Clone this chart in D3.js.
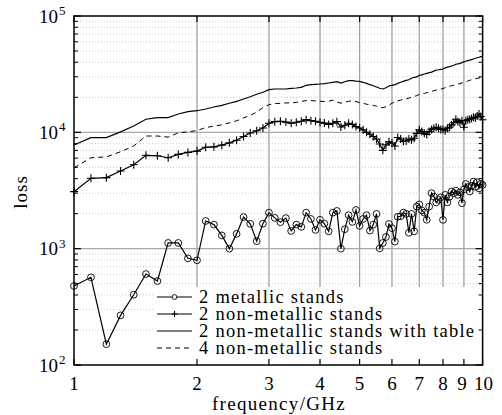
<!DOCTYPE html>
<html><head><meta charset="utf-8">
<script src="https://cdn.jsdelivr.net/npm/d3@7"></script>
</head>
<body style="margin:0;background:#fff"><svg id="chart" width="502" height="415"></svg>
<script>
const freqs = [1.0,1.1,1.2,1.3,1.4,1.5,1.6,1.7,1.8,1.9,
2.0,2.1,2.2,2.3,2.4,2.5,2.6,2.7,2.8,2.9,
3.0,3.1,3.2,3.3,3.4,3.5,3.6,3.7,3.8,3.9,
4.0,4.1,4.2,4.3,4.4,4.5,4.6,4.7,4.8,4.9,
5.0,5.1,5.2,5.3,5.4,5.5,5.6,5.7,5.8,5.9,
6.0,6.1,6.2,6.3,6.4,6.5,6.6,6.7,6.8,6.9,
7.0,7.1,7.2,7.3,7.4,7.5,7.6,7.7,7.8,7.9,
8.0,8.1,8.2,8.3,8.4,8.5,8.6,8.7,8.8,8.9,
9.0,9.1,9.2,9.3,9.4,9.5,9.6,9.7,9.8,9.9,10.0];

const metallic = [478,567,151,267,402,605,527,1120,1120,826,
794,1730,1610,1300,1000,1340,1870,1635,1160,1640,
2040,1840,1690,1830,1420,1610,1540,2040,1800,1450,
1770,1640,1410,2040,2110,1000,1470,1940,1700,2150,
1570,1800,1940,1430,1610,1990,1005,1120,1260,1630,
1500,1150,1880,1900,2040,1990,1370,1990,1410,2300,
2400,2130,2040,1770,2300,3000,2800,2500,2630,2760,
1770,2900,2500,2800,3100,3000,3150,2900,3050,2460,
3230,3600,3380,3100,3470,3770,3400,3720,3300,3600,3530];

const nonMetallic = [3090,4025,4080,4650,5270,6345,6290,6050,6460,6720,
6900,7450,7500,7760,8120,8560,9200,9870,10330,10900,
11960,12350,12450,12250,11960,12200,12450,12850,12600,12450,
12200,12000,11700,11960,12350,11120,11500,11960,11700,11200,
10900,10500,10000,9620,9200,8750,7930,7000,7800,8300,
8080,7630,9040,8750,8340,8430,8750,8620,8900,9800,
10500,10150,9800,9570,10150,10600,10840,11050,10840,10600,
10600,10330,10840,11050,11600,12100,12950,12350,12100,12600,
11050,12600,12840,12950,13150,13470,13300,13800,14380,13700,12840];

const withTable = [7780,8990,9020,10100,11330,12950,13360,13400,14380,15050,
15340,15870,16500,17070,17770,18480,19340,20230,21230,22100,
23260,23580,23580,23580,23900,24040,24380,25370,25680,25880,
26040,26180,26550,26920,27240,26550,27240,27800,27800,27600,
27450,26920,26360,25680,25170,24550,23910,23580,24170,25000,
25370,25680,26360,26920,27450,27980,28320,29140,29720,30000,
30900,31230,31720,32160,32600,32900,33600,34300,34500,34800,
35000,35800,36300,36700,37200,37700,38500,38700,39200,39700,
40300,40800,41300,41700,42200,42700,43300,43800,44200,44700,45000];

const fourNonMetallic = [4960,6050,6150,6810,7630,9300,9300,9100,9900,10100,
10350,11000,11300,11600,12060,12560,13300,14000,14930,16300,
17300,17640,17780,17900,17900,18100,18400,18750,18750,18600,
18500,18400,18500,18900,18200,17800,18200,18500,18600,18400,
18000,17800,17430,17300,17050,16800,16400,16300,16600,17050,
17800,18200,18600,18900,19300,19400,19700,20000,20300,20700,
21200,21400,21600,21900,22200,22500,22800,23100,23300,23500,
23800,24200,24500,24900,25200,25400,25700,26050,26200,26600,
26900,27300,27600,28000,28300,28700,28900,29100,29300,29500,29800];

const seriesNames = ["2 metallic stands","2 non-metallic stands","2 non-metallic stands with table","4 non-metallic stands"];
const xTicks = [1,2,3,4,5,6,7,8,9,10];
const xTickLabels = ["1","2","3","4","5","6","7","8","9","10"];
const yTicks = [100,1000,10000,100000];
const yTickExp = ["2","3","4","5"];

const svg = d3.select("#chart");
const L = 74, R = 482.6, T = 16, B = 365;
const x = d3.scaleLog().domain([1,10]).range([L,R]);
const y = d3.scaleLog().domain([100,100000]).range([B,T]);

function txt(sel, size){
  return sel.append("text").style("font-family", '"Liberation Serif", monospace').attr("font-size", size);
}

const yMinor = [];
[100,1000,10000].forEach(d => { for (let k=2;k<=9;k++) yMinor.push(d*k); });

const grid = svg.append("g");
grid.selectAll("line.minor").data(yMinor).enter().append("line")
  .attr("x1",L).attr("x2",R).attr("y1",d=>y(d)).attr("y2",d=>y(d))
  .attr("stroke","#bdbdbd").attr("stroke-width",0.8).attr("stroke-dasharray","1,2");
grid.selectAll("line.hmaj").data([1000,10000]).enter().append("line")
  .attr("x1",L).attr("x2",R).attr("y1",d=>y(d)).attr("y2",d=>y(d))
  .attr("stroke","#a8a8a8").attr("stroke-width",1.2);
grid.selectAll("line.vmaj").data(xTicks.slice(1,-1)).enter().append("line")
  .attr("x1",d=>x(d)).attr("x2",d=>x(d)).attr("y1",T).attr("y2",B)
  .attr("stroke","#a0a0a0").attr("stroke-width",1.3);

const legX = 155, legY = 287;
svg.append("rect").attr("x",legX).attr("y",legY).attr("width",R-legX).attr("height",B-legY).attr("fill","#fff");

const line = d3.line().x((d,i)=>x(freqs[i])).y(d=>y(d));
const plot = svg.append("g");
plot.append("path").datum(withTable).attr("d",line).attr("fill","none").attr("stroke","#000").attr("stroke-width",1.2);
plot.append("path").datum(fourNonMetallic).attr("d",line).attr("fill","none").attr("stroke","#000").attr("stroke-width",1).attr("stroke-dasharray","5,4");
plot.append("path").datum(nonMetallic).attr("d",line).attr("fill","none").attr("stroke","#000").attr("stroke-width",1.2);
plot.selectAll("path.cross").data(nonMetallic).enter().append("path")
  .attr("d",(d,i)=>{const cx=x(freqs[i]),cy=y(d);return `M${cx-4},${cy}H${cx+4}M${cx},${cy-4}V${cy+4}`;})
  .attr("stroke","#000").attr("stroke-width",1.1);
plot.append("path").datum(metallic).attr("d",line).attr("fill","none").attr("stroke","#000").attr("stroke-width",1.2);
plot.selectAll("circle").data(metallic).enter().append("circle")
  .attr("cx",(d,i)=>x(freqs[i])).attr("cy",d=>y(d)).attr("r",3.4)
  .attr("fill","none").attr("stroke","#000").attr("stroke-width",0.9);

const rows = [297,314,331,348];
const lg = svg.append("g");
seriesNames.forEach((name,i)=>{
  const ry = rows[i];
  const ln = lg.append("line").attr("x1",157).attr("x2",192).attr("y1",ry).attr("y2",ry)
    .attr("stroke","#000").attr("stroke-width", i===3?1:1.2);
  if (i===3) ln.attr("stroke-dasharray","5,4");
  if (i===0) lg.append("circle").attr("cx",174.5).attr("cy",ry).attr("r",2.4).attr("fill","#fff").attr("stroke","#000").attr("stroke-width",0.9);
  if (i===1) lg.append("path").attr("d",`M171.5,${ry}H177.5M174.5,${ry-3}V${ry+3}`).attr("stroke","#000").attr("stroke-width",1.1);
  txt(lg,18.5).attr("x",199).attr("y",ry+5.5).attr("letter-spacing",1.25).attr("fill","#000").text(name);
});

const fr = svg.append("g");
fr.append("rect").attr("x",L).attr("y",T).attr("width",R-L).attr("height",B-T)
  .attr("fill","none").attr("stroke","#000").attr("stroke-width",1.5);
xTicks.forEach(d=>{
  fr.append("line").attr("x1",x(d)).attr("x2",x(d)).attr("y1",B).attr("y2",B-6).attr("stroke","#000").attr("stroke-width",1.2);
  fr.append("line").attr("x1",x(d)).attr("x2",x(d)).attr("y1",T).attr("y2",T+6).attr("stroke","#000").attr("stroke-width",1.2);
});
yTicks.forEach(d=>{
  fr.append("line").attr("x1",L).attr("x2",L+7).attr("y1",y(d)).attr("y2",y(d)).attr("stroke","#000").attr("stroke-width",1.2);
  fr.append("line").attr("x1",R).attr("x2",R-7).attr("y1",y(d)).attr("y2",y(d)).attr("stroke","#000").attr("stroke-width",1.2);
});
yMinor.forEach(d=>{
  fr.append("line").attr("x1",L).attr("x2",L+4).attr("y1",y(d)).attr("y2",y(d)).attr("stroke","#000").attr("stroke-width",1);
  fr.append("line").attr("x1",R).attr("x2",R-4).attr("y1",y(d)).attr("y2",y(d)).attr("stroke","#000").attr("stroke-width",1);
});

xTicks.forEach((d,i)=>{
  let tx = x(d);
  if (d===9) tx -= 2; if (d===10) tx += 1;
  txt(svg,19).attr("x",tx).attr("y",390).attr("text-anchor","middle").attr("fill","#000").text(xTickLabels[i]);
});
yTicks.forEach((d,i)=>{
  txt(svg,19).attr("x",58).attr("y",y(d)+6.5).attr("text-anchor","end").attr("fill","#000").text("10");
  txt(svg,13).attr("x",59).attr("y",y(d)-1).attr("fill","#000").text(yTickExp[i]);
});

txt(svg,19).attr("x",279).attr("y",410).attr("text-anchor","middle").attr("letter-spacing",1.3).attr("fill","#000").text("frequency/GHz");
txt(svg,19).attr("transform","translate(27,192) rotate(-90)").attr("text-anchor","middle").attr("letter-spacing",1).attr("fill","#000").text("loss");

svg.selectAll("text").each(function(){ this.getComputedTextLength(); });
</script></body></html>
